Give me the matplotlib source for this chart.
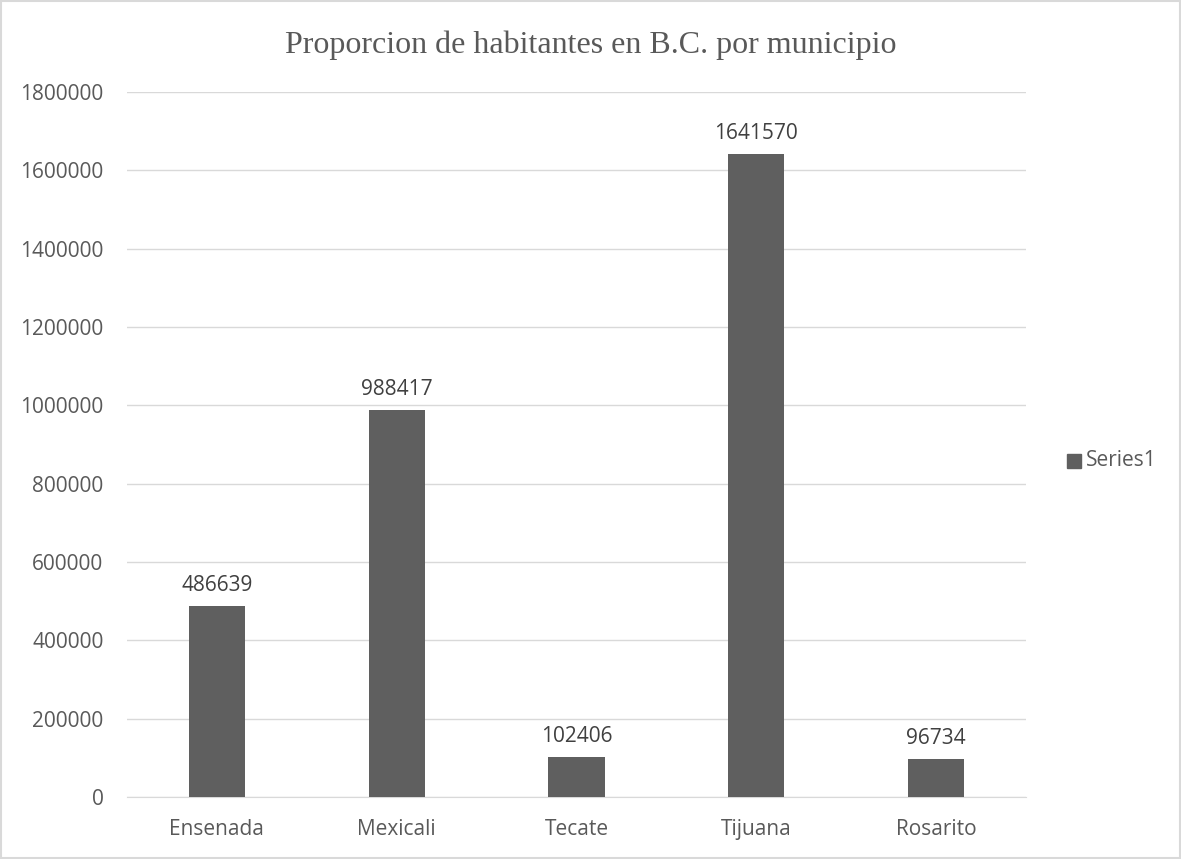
import matplotlib.pyplot as plt
from matplotlib.patches import Rectangle

municipios = ["Ensenada", "Mexicali", "Tecate", "Tijuana", "Rosarito"]
habitantes = [486639, 988417, 102406, 1641570, 96734]
yticks = [0, 200000, 400000, 600000, 800000, 1000000, 1200000, 1400000, 1600000, 1800000]

bar_color = "#5f5f5f"
text_color = "#595959"
grid_color = "#d9d9d9"

plt.rcParams["font.family"] = ["Open Sans", "DejaVu Sans"]

W, H = 1181, 859
fig = plt.figure(figsize=(W / 100, H / 100), dpi=100)
ax = fig.add_axes([127 / W, 1 - 797 / H, 899 / W, (797 - 92) / H])

bars = ax.bar(range(len(municipios)), habitantes, width=0.313, color=bar_color, zorder=3)
for b, v in zip(bars, habitantes):
    ax.annotate(str(v), (b.get_x() + b.get_width() / 2, v), xytext=(0, 11),
                textcoords="offset points", ha="center", va="baseline",
                fontsize=15, color="#404040")

ax.set_xlim(-0.5, len(municipios) - 0.5)
ax.set_ylim(0, 1800000)
ax.set_yticks(yticks)
ax.set_yticklabels([str(t) for t in yticks])
ax.set_xticks(range(len(municipios)))
ax.set_xticklabels(municipios)
ax.tick_params(axis="both", length=0, labelsize=15, labelcolor=text_color)
ax.tick_params(axis="y", pad=17)
ax.tick_params(axis="x", pad=16)
ax.grid(axis="y", color=grid_color, linewidth=1, zorder=0)
for s in ["top", "right", "left"]:
    ax.spines[s].set_visible(False)
ax.spines["bottom"].set_color(grid_color)

fig.text(0.5, 1 - 45 / H, "Proporcion de habitantes en B.C. por municipio", ha="center", va="center",
         fontsize=23, color=text_color, family="Liberation Serif")

# legend
fig.patches.append(Rectangle((1067 / W, 1 - 468 / H), 14 / W, 14 / H,
                             transform=fig.transFigure, color=bar_color))
fig.text(1086 / W, 1 - 461 / H, "Series1", ha="left", va="center", fontsize=15, color=text_color)

# chart border
fig.patches.append(Rectangle((0.001, 0.001), 0.998, 0.998, transform=fig.transFigure,
                             fill=False, edgecolor="#d9d9d9", linewidth=1.5))

fig.savefig("out.png", dpi=100)
